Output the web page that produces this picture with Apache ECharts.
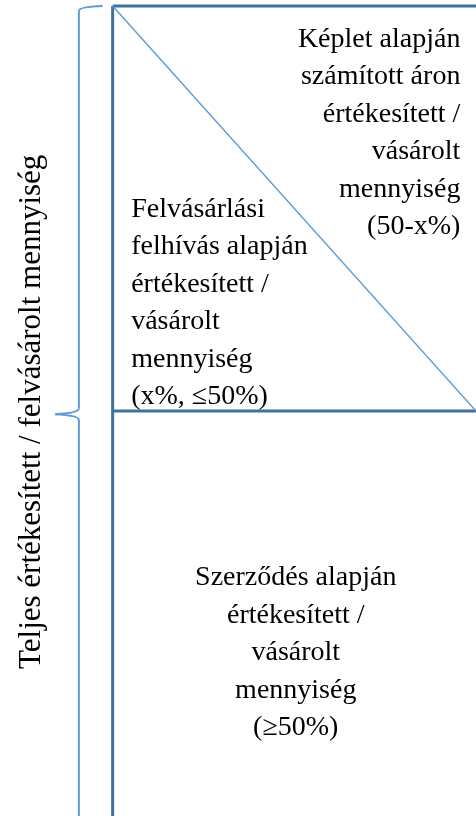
<!DOCTYPE html>
<html>
<head>
<meta charset="utf-8">
<style>html,body{margin:0;padding:0;background:#fff;}#c{width:476px;height:816px;}</style>
<script src="https://cdn.jsdelivr.net/npm/echarts@6/dist/echarts.min.js"></script>
</head>
<body>
<div id="c"></div>
<script>
// Shares (percent of total quantity)
const shareTop = 100;
const shareContract = 50;
const frameStart = 0;
const frameEnd = 100;

const formulaLines = ['Képlet alapján', 'számított áron', 'értékesített /', 'vásárolt', 'mennyiség', '(50-x%)'];
const tenderLines = ['Felvásárlási', 'felhívás alapján', 'értékesített /', 'vásárolt', 'mennyiség', '(x%, ≤50%)'];
const contractLines = ['Szerződés alapján', 'értékesített /', 'vásárolt', 'mennyiség', '(≥50%)'];
const totalLabel = 'Teljes értékesített / felvásárolt mennyiség';

const chart = echarts.init(document.getElementById('c'), null, {renderer: 'canvas'});
const FONT = '28px "Liberation Serif", "Times New Roman", serif';
const FONT_V = '31px "Liberation Serif", "Times New Roman", serif';
const DARK = '#41719C';
const LIGHT = '#5B9BD5';

function textBlock(lines, x, y, align) {
  return {
    type: 'custom',
    coordinateSystem: 'cartesian2d',
    silent: true,
    data: [[x, y]],
    renderItem: function (params, api) {
      const p = api.coord([api.value(0), api.value(1)]);
      return {
        type: 'text',
        x: p[0], y: p[1],
        style: {text: lines.join('\n'), font: FONT, fill: '#000', align: align, verticalAlign: 'top', lineHeight: 37.5}
      };
    }
  };
}

const option = {
  animation: false,
  grid: {left: 0, right: -7, top: 6, height: 813, containLabel: false},
  xAxis: {type: 'value', min: -31, max: 100, show: false},
  yAxis: {type: 'value', min: 0, max: 100, show: false},
  series: [
    // frame lines
    {type: 'line', data: [[frameStart, shareTop], [frameEnd, shareTop]], symbol: 'none', lineStyle: {color: DARK, width: 3}, clip: false, silent: true},
    {type: 'line', data: [[frameStart, -2], [frameStart, shareTop]], symbol: 'none', lineStyle: {color: DARK, width: 3}, clip: false, silent: true},
    {type: 'line', data: [[frameStart, shareContract], [frameEnd, shareContract]], symbol: 'none', lineStyle: {color: DARK, width: 3}, clip: false, silent: true},
    // diagonal
    {type: 'line', data: [[frameStart, shareTop], [frameEnd, shareContract]], symbol: 'none', lineStyle: {color: LIGHT, width: 1.4}, clip: false, silent: true},
    // brace
    {
      type: 'custom', coordinateSystem: 'cartesian2d', silent: true,
      data: [[-9.3, shareContract]],
      renderItem: function (params, api) {
        const bx = api.value(0);
        const c = function (x, y) { return api.coord([x, y]); };
        const a = c(-2.8, 100), b = c(bx, 99.4), cp1 = c(bx, 99.9);
        const u = c(bx, 50.3), tip = c(-15.8, 49.6), l = c(bx, 48.9);
        const cpU = c(bx, 49.75), cpL = c(bx, 49.45);
        const bot = c(bx, -2);
        const st = {stroke: LIGHT, lineWidth: 2, fill: null};
        return {
          type: 'group',
          children: [
            {type: 'bezierCurve', shape: {x1: a[0], y1: a[1], x2: b[0], y2: b[1], cpx1: cp1[0], cpy1: cp1[1]}, style: st},
            {type: 'line', shape: {x1: b[0], y1: b[1], x2: u[0], y2: u[1]}, style: st},
            {type: 'bezierCurve', shape: {x1: u[0], y1: u[1], x2: tip[0], y2: tip[1], cpx1: cpU[0], cpy1: cpU[1]}, style: st},
            {type: 'bezierCurve', shape: {x1: tip[0], y1: tip[1], x2: l[0], y2: l[1], cpx1: cpL[0], cpy1: cpL[1]}, style: st},
            {type: 'line', shape: {x1: l[0], y1: l[1], x2: bot[0], y2: bot[1]}, style: st}
          ]
        };
      }
    },
    textBlock(formulaLines, 95.7, 98.2, 'right'),
    textBlock(tenderLines, 5.1, 77.2, 'left'),
    textBlock(contractLines, 50.4, 31.7, 'center'),
    {
      type: 'custom', coordinateSystem: 'cartesian2d', silent: true,
      data: [[-22.3, 49.9]],
      renderItem: function (params, api) {
        const p = api.coord([api.value(0), api.value(1)]);
        return {
          type: 'text', x: p[0], y: p[1], rotation: Math.PI / 2,
          style: {text: totalLabel, font: FONT_V, fill: '#000', align: 'center', verticalAlign: 'middle'}
        };
      }
    }
  ]
};
chart.setOption(option);
</script>
</body>
</html>
